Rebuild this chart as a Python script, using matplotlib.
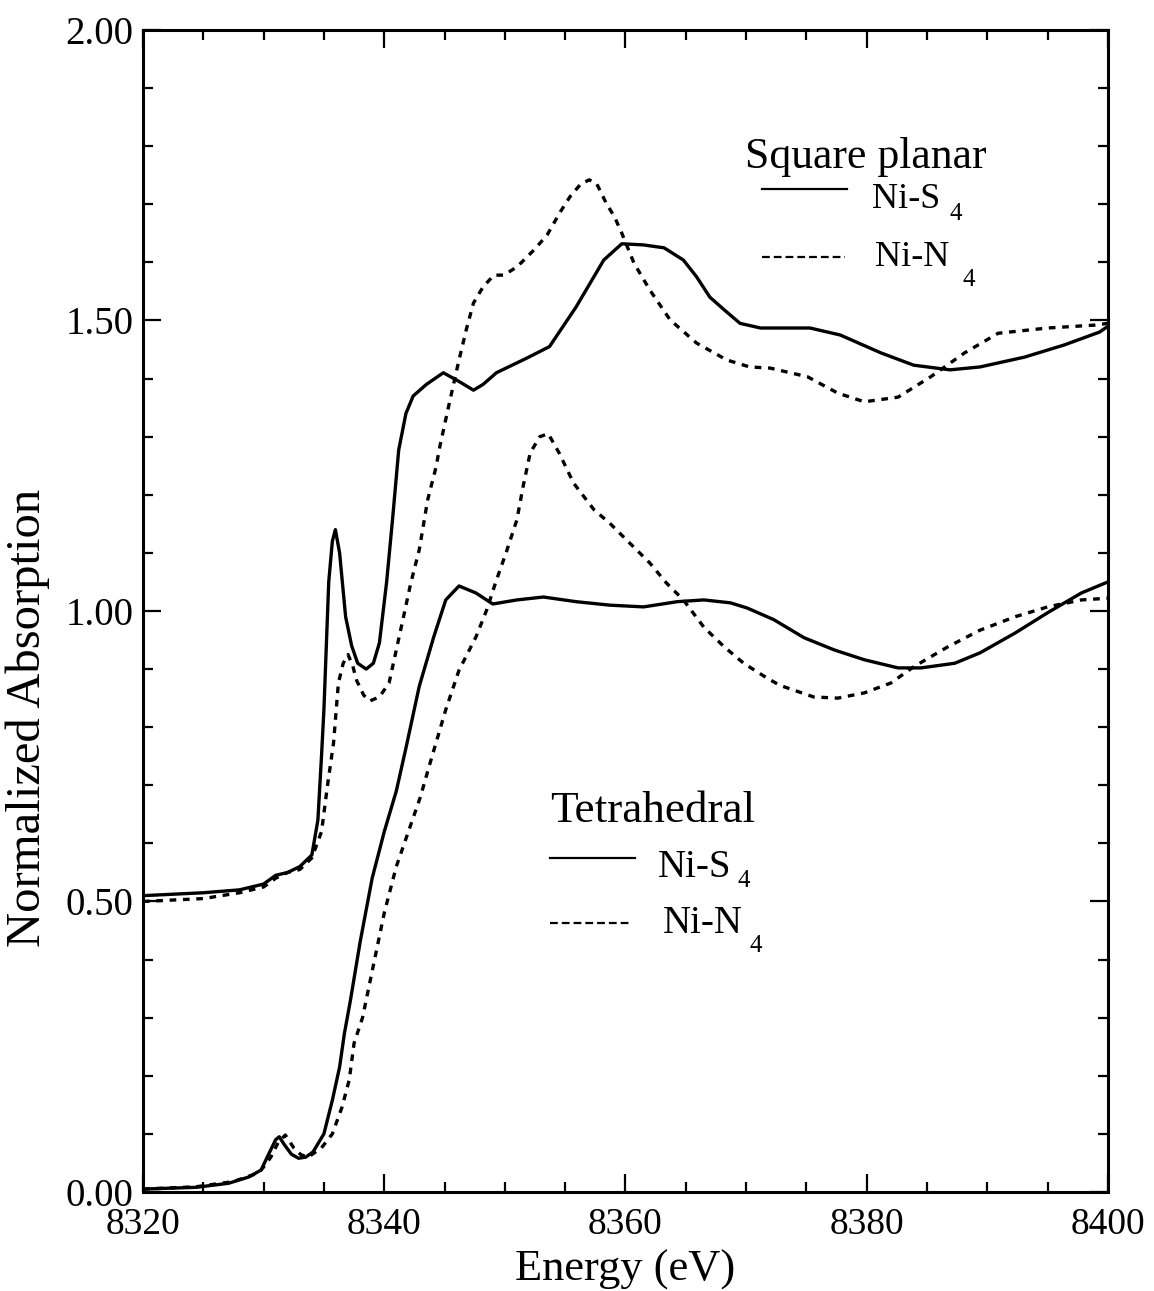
import matplotlib
matplotlib.use("Agg")
import matplotlib.pyplot as plt
from matplotlib.ticker import MultipleLocator, FormatStrFormatter

# Ni K-edge XAS
# square planar, Ni-S4 (solid)
sp_s4_e = [8320, 8325, 8328, 8330, 8331, 8332, 8333, 8334, 8334.5, 8334.8, 8335.0,
           8335.4, 8335.7, 8335.95, 8336.3, 8336.8, 8337.3, 8337.8, 8338.5, 8339.1,
           8339.6, 8340.2, 8340.7, 8341.2, 8341.8, 8342.4, 8343.5, 8344.9, 8346.2,
           8347.4, 8348.2, 8349.3, 8351.8, 8353.7, 8355.9, 8358.2, 8359.7, 8361.5,
           8363.2, 8364.8, 8365.9, 8367.0, 8368.2, 8369.5, 8371.2, 8375.3, 8377.8,
           8381.2, 8383.9, 8386.9, 8389.4, 8393.1, 8396.4, 8399.3, 8400]
sp_s4_mu = [0.51, 0.515, 0.52, 0.53, 0.545, 0.55, 0.56, 0.58, 0.64, 0.75, 0.83,
            1.05, 1.12, 1.14, 1.10, 0.99, 0.94, 0.91, 0.90, 0.91,
            0.945, 1.05, 1.16, 1.277, 1.34, 1.37, 1.39, 1.41, 1.395,
            1.38, 1.39, 1.41, 1.435, 1.455, 1.523, 1.604, 1.632, 1.63,
            1.625, 1.604, 1.575, 1.54, 1.518, 1.495, 1.487, 1.487, 1.475,
            1.444, 1.423, 1.415, 1.42, 1.437, 1.458, 1.48, 1.49]

# square planar, Ni-N4 (dashed)
sp_n4_e = [8320, 8325, 8328, 8330, 8331, 8332, 8333, 8334, 8334.8, 8335.3, 8335.8,
           8336.2, 8336.6, 8337.0, 8337.4, 8337.7, 8338.3, 8338.8, 8339.6, 8340.4,
           8341.0, 8341.6, 8342.2, 8342.9, 8343.6, 8344.3, 8344.6, 8345.4, 8346.2,
           8346.8, 8347.4, 8348.2, 8349.1, 8349.9, 8351.0, 8352.4, 8353.5, 8354.6,
           8355.4, 8356.3, 8357.0, 8357.6, 8358.4, 8359.1, 8359.7, 8360.7, 8362.0,
           8363.7, 8365.9, 8368.4, 8370.3, 8372.0, 8375.1, 8377.6, 8379.8, 8382.6,
           8385.3, 8388.1, 8390.9, 8395.0, 8398.9, 8400]
sp_n4_mu = [0.50, 0.505, 0.515, 0.525, 0.54, 0.55, 0.555, 0.575, 0.62, 0.70, 0.773,
            0.876, 0.91, 0.925, 0.905, 0.881, 0.855, 0.845, 0.852, 0.876,
            0.933, 0.99, 1.048, 1.105, 1.191, 1.248, 1.282, 1.358, 1.432,
            1.484, 1.53, 1.558, 1.578, 1.578, 1.592, 1.621, 1.647, 1.687,
            1.713, 1.735, 1.742, 1.736, 1.702, 1.678, 1.65, 1.599, 1.553,
            1.501, 1.461, 1.432, 1.42, 1.418, 1.403, 1.375, 1.36, 1.368,
            1.403, 1.444, 1.478, 1.487, 1.492, 1.495]

# tetrahedral, Ni-S4 (solid)
t_s4_e = [8320, 8324.4, 8327.1, 8328.8, 8329.8, 8330.3, 8331.0, 8331.3, 8331.7,
          8332.3, 8332.9, 8333.5, 8334.1, 8335.0, 8335.7, 8336.3, 8336.7, 8337.2,
          8338.0, 8339.0, 8340.0, 8341.0, 8341.8, 8342.9, 8344.1, 8345.1, 8346.2,
          8347.6, 8349.0, 8351.0, 8353.2, 8355.9, 8358.7, 8361.5, 8364.3, 8366.5,
          8368.7, 8370.1, 8372.3, 8374.8, 8377.3, 8379.8, 8382.6, 8384.5, 8387.3,
          8389.4, 8392.3, 8395.0, 8397.8, 8400]
t_s4_mu = [0.005, 0.008, 0.015, 0.026, 0.038, 0.06, 0.09, 0.095, 0.082,
           0.065, 0.058, 0.06, 0.069, 0.10, 0.158, 0.215, 0.273, 0.33,
           0.43, 0.54, 0.62, 0.69, 0.764, 0.87, 0.955, 1.019, 1.043,
           1.031, 1.012, 1.019, 1.024, 1.016, 1.01, 1.007, 1.016, 1.019,
           1.014, 1.005, 0.985, 0.954, 0.933, 0.916, 0.902, 0.902, 0.91,
           0.928, 0.962, 0.997, 1.031, 1.05]

# tetrahedral, Ni-N4 (dashed)
t_n4_e = [8320, 8324.4, 8327.5, 8329.6, 8330.0, 8330.6, 8331.2, 8331.8, 8332.5,
          8333.1, 8333.7, 8334.8, 8335.7, 8336.5, 8337.1, 8337.5, 8338.2, 8338.5,
          8339.2, 8340.0, 8341.0, 8342.0, 8343.0, 8343.7, 8345.1, 8346.2, 8347.6,
          8348.5, 8349.3, 8350.1, 8351.0, 8351.5, 8352.1, 8352.9, 8353.6, 8354.5,
          8355.7, 8357.4, 8358.7, 8360.1, 8362.0, 8363.4, 8364.8, 8366.5, 8368.2,
          8369.8, 8371.7, 8372.8, 8375.6, 8377.6, 8379.8, 8382.0, 8383.9, 8386.7,
          8389.4, 8392.3, 8395.0, 8397.8, 8400]
t_n4_mu = [0.005, 0.009, 0.018, 0.033, 0.043, 0.06, 0.085, 0.098, 0.076,
           0.064, 0.06, 0.076, 0.10, 0.146, 0.193, 0.256, 0.30, 0.33,
           0.40, 0.48, 0.56, 0.62, 0.68, 0.731, 0.83, 0.898, 0.955,
           1.002, 1.053, 1.1, 1.157, 1.213, 1.272, 1.3, 1.305, 1.272,
           1.22, 1.174, 1.151, 1.122, 1.083, 1.048, 1.019, 0.972, 0.938,
           0.91, 0.885, 0.872, 0.852, 0.85, 0.859, 0.876, 0.904, 0.938,
           0.967, 0.99, 1.007, 1.019, 1.022]

plt.rcParams['font.family'] = ['Liberation Serif', 'DejaVu Serif']

fig = plt.figure(figsize=(11.54, 12.91), dpi=100)
ax = fig.add_axes([0.1239, 0.0767, 0.8362, 0.9001])

lw = 2.4
dash = (2.0, 2.0)
ax.plot(sp_s4_e, sp_s4_mu, color='black', lw=lw)
ax.plot(sp_n4_e, sp_n4_mu, color='black', lw=lw, linestyle=(0, dash))
ax.plot(t_s4_e, t_s4_mu, color='black', lw=lw)
ax.plot(t_n4_e, t_n4_mu, color='black', lw=lw, linestyle=(0, dash))

ax.set_xlim(8320, 8400)
ax.set_ylim(0, 2.0)
ax.xaxis.set_major_locator(MultipleLocator(20))
ax.xaxis.set_minor_locator(MultipleLocator(5))
ax.yaxis.set_major_locator(MultipleLocator(0.5))
ax.yaxis.set_minor_locator(MultipleLocator(0.1))
ax.yaxis.set_major_formatter(FormatStrFormatter('%.2f'))

ax.tick_params(which='both', direction='in', top=True, right=True, width=1.6)
ax.tick_params(which='major', length=13)
ax.tick_params(which='minor', length=7)
ax.tick_params(axis='x', labelsize=27, pad=11)
ax.tick_params(axis='y', labelsize=28, pad=7)
for s in ax.spines.values():
    s.set_linewidth(2.2)

ax.set_xlabel("Energy (eV)", fontsize=32, labelpad=6)
ax.set_ylabel("Normalized Absorption", fontsize=35)
ax.yaxis.set_label_coords(-0.0964, 0.408)

# hand-placed key, as in the original figure
tr = ax.transAxes
ax.text(0.6238, 0.8812, "Square planar", fontsize=31.5, transform=tr, va='baseline')
ax.plot([0.6415, 0.7295], [0.8632, 0.8632], color='black', lw=1.6, transform=tr)
ax.text(0.7554, 0.8468, "Ni-S", fontsize=26, transform=tr, va='baseline')
ax.text(0.8363, 0.8365, "4", fontsize=18, transform=tr, va='baseline')
ax.plot([0.6415, 0.7275], [0.8046, 0.8046], color='black', lw=1.6,
        linestyle=(0, (3.5, 1.8)), transform=tr)
ax.text(0.7585, 0.7969, "Ni-N", fontsize=26, transform=tr, va='baseline')
ax.text(0.8497, 0.7797, "4", fontsize=18, transform=tr, va='baseline')

ax.text(0.4218, 0.3184, "Tetrahedral", fontsize=32.5, transform=tr, va='baseline')
ax.plot([0.4218, 0.5098], [0.2874, 0.2874], color='black', lw=1.6, transform=tr)
ax.text(0.5337, 0.2711, "Ni-S", fontsize=28, transform=tr, va='baseline')
ax.text(0.6166, 0.2625, "4", fontsize=18, transform=tr, va='baseline')
ax.plot([0.4218, 0.5067], [0.2315, 0.2315], color='black', lw=1.6,
        linestyle=(0, (3.5, 1.8)), transform=tr)
ax.text(0.5389, 0.2229, "Ni-N", fontsize=28, transform=tr, va='baseline')
ax.text(0.6290, 0.2065, "4", fontsize=18, transform=tr, va='baseline')

fig.savefig("out.png", dpi=100)
